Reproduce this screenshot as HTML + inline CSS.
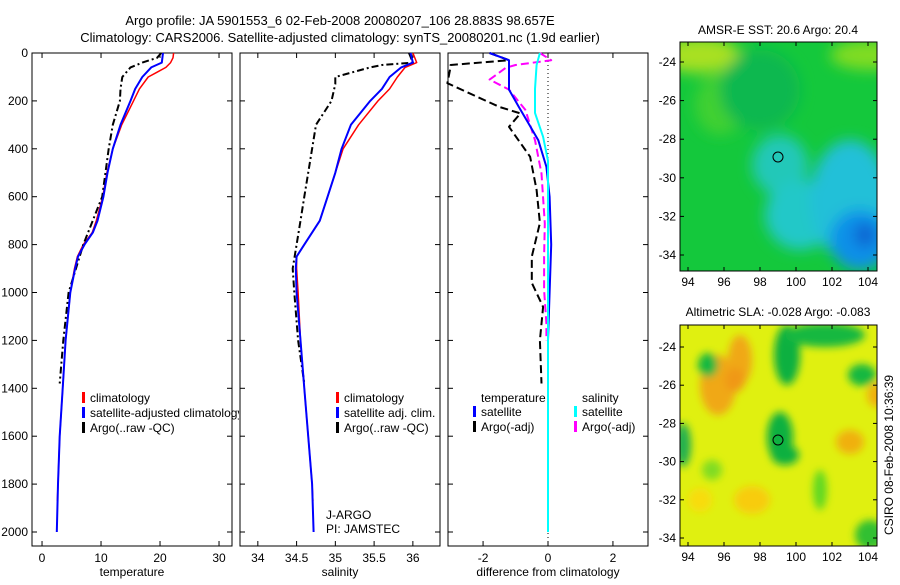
<!DOCTYPE html>
<html><head><meta charset="utf-8"><style>
body{margin:0;background:#fff;}
svg text{font-family:"Liberation Sans",sans-serif;}
</style></head><body>
<svg id="c" width="900" height="580" viewBox="0 0 900 580" xmlns="http://www.w3.org/2000/svg">
<defs>
<filter id="bl" x="-20%" y="-20%" width="140%" height="140%"><feGaussianBlur stdDeviation="7"/></filter>
<filter id="bl2" x="-30%" y="-30%" width="160%" height="160%"><feGaussianBlur stdDeviation="4"/></filter>
<clipPath id="m1c"><rect x="680" y="42" width="197" height="229"/></clipPath>
<clipPath id="m2c"><rect x="680" y="325" width="197" height="221"/></clipPath>
<clipPath id="p1c"><rect x="32" y="53" width="207" height="493"/></clipPath>
</defs>
<text x="340" y="25" font-size="13" text-anchor="middle">Argo profile: JA 5901553_6 02-Feb-2008 20080207_106 28.883S 98.657E</text>
<text x="340" y="42" font-size="13" text-anchor="middle">Climatology: CARS2006. Satellite-adjusted climatology: synTS_20080201.nc (1.9d earlier)</text>

<g>
<g clip-path="url(#m1c)">
<rect x="680" y="42" width="197" height="229" fill="#14c83c"/>
<g filter="url(#bl)">
<ellipse cx="700" cy="55" rx="40" ry="18" fill="#a8e020"/>
<ellipse cx="870" cy="55" rx="40" ry="15" fill="#80dc20"/>
<ellipse cx="720" cy="105" rx="25" ry="30" fill="#40d030"/>
<ellipse cx="760" cy="90" rx="40" ry="40" fill="#10b850"/>
<ellipse cx="780" cy="165" rx="28" ry="30" fill="#20c8b8"/>
<ellipse cx="800" cy="215" rx="35" ry="35" fill="#20c8c8"/>
<ellipse cx="850" cy="200" rx="40" ry="60" fill="#20c0d8"/>
<ellipse cx="860" cy="240" rx="30" ry="30" fill="#1090e8"/>
<ellipse cx="865" cy="235" rx="10" ry="12" fill="#1060d0"/>
</g></g>
<rect x="680" y="42" width="197" height="229" fill="none" stroke="#000"/>
<circle cx="778" cy="157" r="5" fill="none" stroke="#000"/>
<text x="778" y="34" font-size="12" text-anchor="middle">AMSR-E SST: 20.6 Argo: 20.4</text>
</g>
<g>
<g clip-path="url(#m2c)">
<rect x="680" y="325" width="197" height="221" fill="#e0f010"/>
<g filter="url(#bl2)">
<ellipse cx="718" cy="385" rx="18" ry="30" fill="#f0a818"/>
<ellipse cx="740" cy="360" rx="12" ry="25" fill="#f0a818"/>
<ellipse cx="735" cy="380" rx="10" ry="12" fill="#f09818"/>
<ellipse cx="708" cy="365" rx="10" ry="12" fill="#18b840"/>
<ellipse cx="787" cy="355" rx="13" ry="30" fill="#10b040"/>
<ellipse cx="825" cy="335" rx="40" ry="12" fill="#18b840"/>
<ellipse cx="862" cy="375" rx="14" ry="11" fill="#18b840"/>
<ellipse cx="780" cy="437" rx="13" ry="25" fill="#10b040"/>
<ellipse cx="785" cy="455" rx="14" ry="10" fill="#10b040"/>
<ellipse cx="683" cy="445" rx="8" ry="22" fill="#20b050"/>
<ellipse cx="850" cy="442" rx="14" ry="12" fill="#f0b010"/>
<ellipse cx="877" cy="395" rx="10" ry="12" fill="#f0b010"/>
<ellipse cx="752" cy="500" rx="18" ry="14" fill="#f8cc10"/>
<ellipse cx="712" cy="470" rx="10" ry="10" fill="#80dc20"/>
<ellipse cx="820" cy="490" rx="7" ry="20" fill="#60d820"/>
<ellipse cx="870" cy="535" rx="15" ry="15" fill="#30c030"/>
<ellipse cx="700" cy="500" rx="12" ry="12" fill="#f8dc10"/>
</g></g>
<rect x="680" y="325" width="197" height="221" fill="none" stroke="#000"/>
<circle cx="778" cy="440" r="5" fill="none" stroke="#000"/>
<text x="778" y="316" font-size="12" text-anchor="middle">Altimetric SLA: -0.028 Argo: -0.083</text>
</g>
<text transform="translate(893,455) rotate(-90)" font-size="12" text-anchor="middle">CSIRO 08-Feb-2008 10:36:39</text>
<g id="axes"></g>
</svg>
<script>
const tDepth=[0,20,40,60,80,100,150,200,300,400,500,600,700,750,800,850,900,1000,1200,1400,1600,1800,1870];
const tClim=[22.3,22.2,21.8,21.0,19.5,18.0,16.5,15.5,13.5,12.0,11.0,10.3,9.2,8.5,7.0,6.0,5.5,4.8,4.0,3.5,3.0,2.7,2.6];
const tSatDepth=[0,40,60,100,150,200,300,400,500,600,700,750,800,850,900,1000,1200,1400,1600,1800,2000];
const tSat=[20.5,20.3,18.5,17.0,15.8,15.0,13.3,12.0,11.1,10.4,9.4,8.6,7.2,6.1,5.6,4.8,4.0,3.5,3.0,2.7,2.5];
const tArgoDepth=[0,20,40,60,100,150,200,300,400,600,800,1000,1200,1380];
const tArgo=[20.2,19.5,17.0,15.0,13.6,13.3,13.2,12.0,11.3,10.2,7.0,4.5,3.6,3.0];
const sDepth=[0,40,60,100,150,200,300,400,500,600,700,800,850,900,1000,1200,1400,1600,1800,1870];
const sClim=[36.0,36.05,35.9,35.8,35.7,35.55,35.3,35.1,35.0,34.9,34.8,34.6,34.5,34.5,34.52,34.55,34.6,34.65,34.7,34.71];
const sSatDepth=[0,40,60,100,150,200,300,400,500,600,700,800,850,900,1000,1200,1400,1600,1800,2000];
const sSat=[35.97,36.0,35.85,35.7,35.6,35.45,35.2,35.08,35.0,34.9,34.8,34.6,34.5,34.49,34.5,34.55,34.6,34.65,34.7,34.72];
const sArgoDepth=[0,40,50,60,100,130,200,300,400,500,600,700,800,900,1000,1200,1380];
const sArgo=[35.95,36.0,35.6,35.45,35.0,35.0,34.95,34.75,34.7,34.65,34.6,34.55,34.5,34.45,34.47,34.52,34.6];
const dtSatDepth=[0,30,85,153,225,294,364,475,600,800,1000,1200,2000];
const dtSat=[-1.8,-1.2,-1.2,-1.2,-0.9,-0.6,-0.3,-0.05,0.05,0.1,0.05,0.0,0.0];
const dtArgoDepth=[0,30,50,57,126,225,252,308,433,572,710,850,960,1060,1200,1380];
const dtArgo=[-1.8,-1.2,-3.0,-3.0,-3.1,-1.5,-0.85,-1.2,-0.55,-0.35,-0.25,-0.5,-0.5,-0.15,-0.25,-0.2];
const dsSatDepth=[0,50,150,250,350,450,2000];
const dsSat=[-0.25,-0.35,-0.4,-0.4,-0.15,0.0,0.0];
const dsArgoDepth=[0,30,50,62,111,153,237,364,503,712,850,990,1130,1200];
const dsArgo=[-0.25,0.1,-1.0,-1.3,-1.8,-1.2,-0.7,-0.4,-0.2,-0.1,-0.12,-0.12,-0.05,-0.05];
const depthTicks=[0,200,400,600,800,1000,1200,1400,1600,1800,2000];
const tTicks=[0,10,20,30];
const sTicks=[34,34.5,35,35.5,36];
const sTickLabels=["34","34.5","35","35.5","36"];
const dTicks=[-2,0,2];
const ns="http://www.w3.org/2000/svg";
const g=document.getElementById('axes');
function el(t,a,p){const e=document.createElementNS(ns,t);for(const k in a)e.setAttribute(k,a[k]);(p||g).appendChild(e);return e;}
const Y0=53,Y1=546,yS=d=>53+d*0.2395;
const panels=[
 {x0:32,x1:232,lo:-1.7,hi:32.2,ticks:tTicks,labels:tTicks.map(String),title:"temperature",name:"temperature"},
 {x0:240,x1:440,lo:33.77,hi:36.35,ticks:sTicks,labels:sTickLabels,title:"salinity",name:"salinity"},
 {x0:448,x1:648,lo:-3.08,hi:3.08,ticks:dTicks,labels:["-2","0","2"],title:"difference from climatology",name:"difference"}];
panels.forEach(p=>{p.xS=v=>p.x0+(v-p.lo)/(p.hi-p.lo)*(p.x1-p.x0);});
function line(p,dep,val,col,w,dash,name){
 const pts=dep.map((d,i)=>p.xS(val[i]).toFixed(1)+','+yS(d).toFixed(1)).join(' ');
 const e=el('polyline',{points:pts,fill:'none',stroke:col,'stroke-width':w,'stroke-linejoin':'round'});
 if(dash)e.setAttribute('stroke-dasharray',dash);
 
 
}
panels.forEach((p,i)=>{
 const r=el('rect',{x:p.x0,y:Y0,width:p.x1-p.x0,height:Y1-Y0,fill:'none',stroke:'#000'});
 
 
 p.ticks.forEach((t,j)=>{
  const x=p.xS(t);
  el('line',{x1:x,x2:x,y1:Y1,y2:Y1-5,stroke:'#000'});
  el('line',{x1:x,x2:x,y1:Y0,y2:Y0+5,stroke:'#000'});
  const tx=el('text',{x:x,y:562,'font-size':12,'text-anchor':'middle'});tx.textContent=p.labels[j];
  
  
 });
 depthTicks.forEach(d=>{
  el('line',{x1:p.x0,x2:p.x0+5,y1:yS(d),y2:yS(d),stroke:'#000'});
  el('line',{x1:p.x1,x2:p.x1-5,y1:yS(d),y2:yS(d),stroke:'#000'});
 });
 const at=el('text',{x:(p.x0+p.x1)/2,y:576,'font-size':12,'text-anchor':'middle'});at.textContent=p.title;
 
 
});
depthTicks.forEach(d=>{
 const t=el('text',{x:28,y:yS(d)+4,'font-size':12,'text-anchor':'end'});t.textContent=d;
 
 
});
const [P1,P2,P3]=panels;
line(P1,tDepth,tClim,'#f00',1.5,null,'temp-climatology-line');
line(P1,tArgoDepth,tArgo,'#000',2,'7,3,2,3','temp-argo-line');
line(P1,tSatDepth,tSat,'#00f',2,null,'temp-satellite-line');
line(P2,sDepth,sClim,'#f00',1.5,null,'sal-climatology-line');
line(P2,sArgoDepth,sArgo,'#000',2,'7,3,2,3','sal-argo-line');
line(P2,sSatDepth,sSat,'#00f',2,null,'sal-satellite-line');
const z=el('line',{x1:P3.xS(0),x2:P3.xS(0),y1:Y0,y2:Y1,stroke:'#000','stroke-dasharray':'1,3'});


line(P3,dtArgoDepth,dtArgo,'#000',2,'8,4','temp-argo-diff-line');
line(P3,dsArgoDepth,dsArgo,'#f0f',2,'8,4','sal-argo-diff-line');
line(P3,dtSatDepth,dtSat,'#00f',2,null,'temp-satellite-diff-line');
line(P3,dsSatDepth,dsSat,'#0ff',2,null,'sal-satellite-diff-line');
function leg(x,y,col,txt,name,clip){
 if(col){el('rect',{x:x-8,y:y-10,width:3,height:11,fill:col});}
 const t=el('text',{x:x,y:y,'font-size':12});t.textContent=txt;
 if(clip)t.setAttribute('clip-path','url(#p1c)');
 
 
}
leg(90,402,'#f00','climatology','legend-temp-climatology');
leg(90,417,'#00f','satellite-adjusted climatology','legend-temp-satellite',true);
leg(90,432,'#000','Argo(..raw -QC)','legend-temp-argo');
leg(344,402,'#f00','climatology','legend-sal-climatology');
leg(344,417,'#00f','satellite adj. clim.','legend-sal-satellite');
leg(344,432,'#000','Argo(..raw -QC)','legend-sal-argo');
leg(326,519,null,'J-ARGO','j-argo-label');
leg(326,533,null,'PI: JAMSTEC','pi-label');
leg(481,402,null,'temperature','legend-temp-header');
leg(481,416,'#00f','satellite','legend-diff-temp-satellite');
leg(481,431,'#000','Argo(-adj)','legend-diff-temp-argo');
leg(582,402,null,'salinity','legend-sal-header');
leg(582,416,'#0ff','satellite','legend-diff-sal-satellite');
leg(582,431,'#f0f','Argo(-adj)','legend-diff-sal-argo');
const lonTicks=[94,96,98,100,102,104];
const latTicks=[-24,-26,-28,-30,-32,-34];
function mapAxes(top,bot,y24,y34,name){
 lonTicks.forEach(l=>{const x=688+(l-94)*18;
  el('line',{x1:x,x2:x,y1:bot,y2:bot-4,stroke:'#000'});el('line',{x1:x,x2:x,y1:top,y2:top+4,stroke:'#000'});
  const t=el('text',{x:x,y:bot+15,'font-size':12,'text-anchor':'middle'});t.textContent=l;
  
  });
 latTicks.forEach(l=>{const y=y24+(-24-l)/10*(y34-y24);
  el('line',{x1:680,x2:684,y1:y,y2:y,stroke:'#000'});el('line',{x1:877,x2:873,y1:y,y2:y,stroke:'#000'});
  const t=el('text',{x:676,y:y+4,'font-size':12,'text-anchor':'end'});t.textContent=l;
  
  });
}
mapAxes(42,271,62,255,'sst-map');
mapAxes(325,546,347,538,'sla-map');
</script>
</body></html>
